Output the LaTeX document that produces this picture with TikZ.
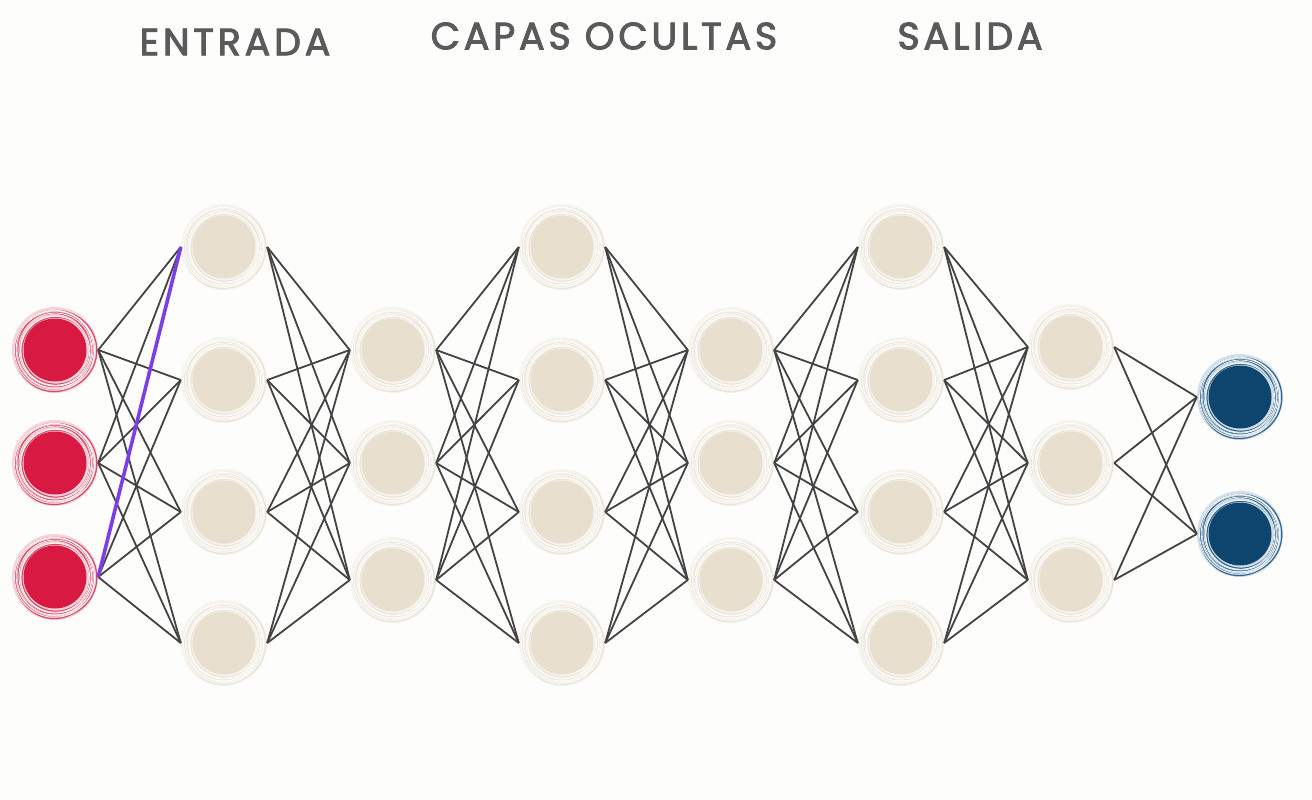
\documentclass[tikz,border=0pt]{standalone}
\usepackage{fontspec}
\setmainfont{Poppins}
\newfontfamily\titlefont[LetterSpace=10,FakeBold=2.5]{Poppins}
\definecolor{bgc}{HTML}{FDFDFC}
\definecolor{txt}{HTML}{5A5A5A}
\definecolor{edgec}{HTML}{434343}
\definecolor{purp}{HTML}{7B3FE4}
\definecolor{redring}{HTML}{F6D3D9}
\definecolor{redstroke}{HTML}{DA4A66}
\definecolor{redin}{HTML}{D81A42}
\definecolor{bering}{HTML}{F7F4EE}
\definecolor{bestroke}{HTML}{EAE3D6}
\definecolor{bein}{HTML}{E8DFCF}
\definecolor{bluering}{HTML}{D3DFE8}
\definecolor{bluestroke}{HTML}{2F6590}
\definecolor{bluein}{HTML}{0E456E}
\begin{document}
\begin{tikzpicture}[x=1pt,y=-1pt]
\tikzset{
  neuron/.style n args={3}{circle, minimum size=86pt, inner sep=0pt, fill=#1,
    path picture={
      \coordinate (c) at (path picture bounding box.center);
      \foreach \dx/\dy/\rx/\ry in {0.8/0.4/41/40, -0.9/1.1/39/40.5, 0.7/-0.9/37.5/36.5, -0.6/-0.4/35.5/36.5, 1.0/0.7/34/33.5, -0.8/0.2/38/37}
        \draw[#2, line width=1.2pt] ([shift={(\dx,\dy)}]c) ellipse [x radius=\rx, y radius=\ry];
      \foreach \dx/\dy/\r in {-0.5/0.3/40, 0.4/-0.5/36.5, 0.2/0.8/34.5, -0.3/-0.6/38.5}
        \draw[white, line width=0.8pt] ([shift={(\dx,\dy)}]c) circle (\r);
      \fill[#3] (c) circle (31.5);
    }},
  inn/.style={neuron={redring}{redstroke}{redin}},
  hid/.style={neuron={bering}{bestroke}{bein}},
  outn/.style={neuron={bluering}{bluestroke}{bluein}},
  edge/.style={draw=edgec, line width=1.8pt},
  hot/.style={draw=purp, line width=3.6pt},
  title/.style={text=txt, font=\titlefont\fontsize{38}{42}\selectfont, inner sep=0pt}
}
\fill[bgc] (0,0) rectangle (1312,800);
\useasboundingbox (0,0) rectangle (1312,800);

\node[title] (t1) at (235,42) {ENTRADA};
\node[title] (t2) at (604,36) {CAPAS OCULTAS};
\node[title] (t3) at (970,36) {SALIDA};

% input
\node[inn] (n0-1) at (55,350) {};
\node[inn] (n0-2) at (55,463) {};
\node[inn] (n0-3) at (55,577) {};
% hidden 1
\node[hid] (n1-1) at (224,247) {};
\node[hid] (n1-2) at (224,380) {};
\node[hid] (n1-3) at (224,512) {};
\node[hid] (n1-4) at (224,643) {};
% hidden 2
\node[hid] (n2-1) at (393,350) {};
\node[hid] (n2-2) at (393,463) {};
\node[hid] (n2-3) at (393,580) {};
% hidden 3
\node[hid] (n3-1) at (562,247) {};
\node[hid] (n3-2) at (562,380) {};
\node[hid] (n3-3) at (562,512) {};
\node[hid] (n3-4) at (562,643) {};
% hidden 4
\node[hid] (n4-1) at (731,350) {};
\node[hid] (n4-2) at (731,463) {};
\node[hid] (n4-3) at (731,580) {};
% hidden 5
\node[hid] (n5-1) at (901,247) {};
\node[hid] (n5-2) at (901,380) {};
\node[hid] (n5-3) at (901,512) {};
\node[hid] (n5-4) at (901,643) {};
% hidden 6
\node[hid] (n6-1) at (1071,347) {};
\node[hid] (n6-2) at (1071,463) {};
\node[hid] (n6-3) at (1071,580) {};
% output
\node[outn] (n7-1) at (1240,397) {};
\node[outn] (n7-2) at (1240,534) {};

\foreach \a/\na/\b/\nb in {0/3/1/4, 1/4/2/3, 2/3/3/4, 3/4/4/3, 4/3/5/4, 5/4/6/3, 6/3/7/2}
  \foreach \i in {1,...,\na}
    \foreach \j in {1,...,\nb}
      \draw[edge] (n\a-\i.east) -- (n\b-\j.west);

\draw[hot] (n0-3.east) -- (n1-1.west);
\end{tikzpicture}
\end{document}
